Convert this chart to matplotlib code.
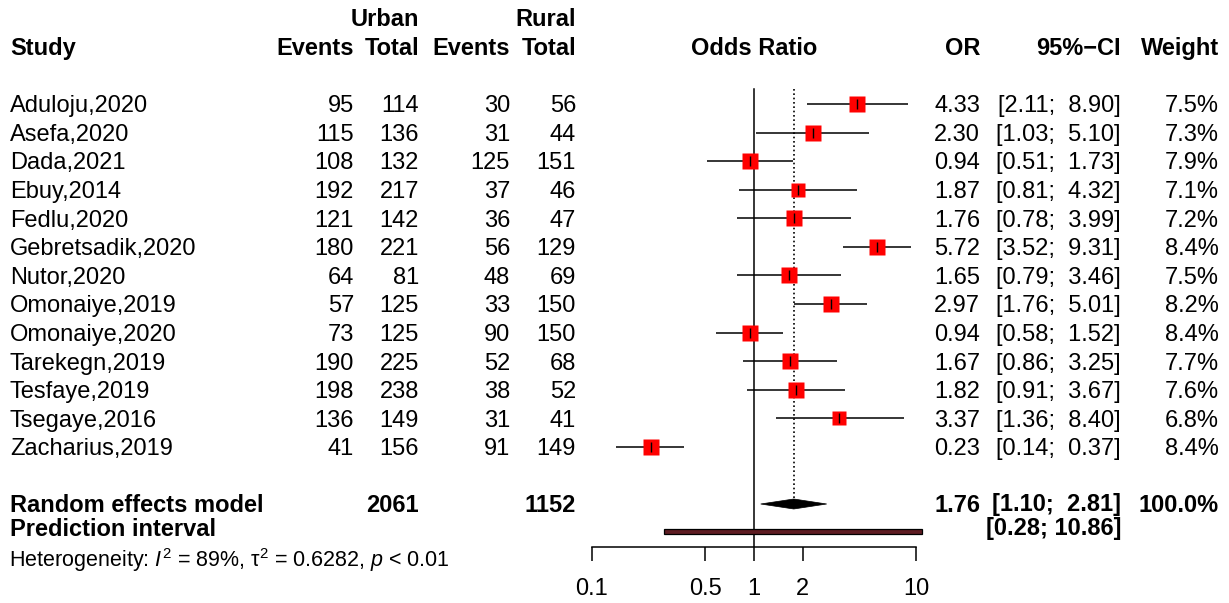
import numpy as np
import matplotlib
matplotlib.use("Agg")
import matplotlib.pyplot as plt
from matplotlib.patches import Rectangle, Polygon
from matplotlib.ticker import NullLocator

plt.rcParams['font.family'] = ['Liberation Sans', 'DejaVu Sans']
plt.rcParams['mathtext.fontset'] = 'custom'
plt.rcParams['mathtext.rm'] = 'Liberation Sans'
plt.rcParams['mathtext.it'] = 'Liberation Sans:italic'

# study level data (urban vs rural)
studies = ["Aduloju,2020", "Asefa,2020", "Dada,2021", "Ebuy,2014", "Fedlu,2020",
           "Gebretsadik,2020", "Nutor,2020", "Omonaiye,2019", "Omonaiye,2020",
           "Tarekegn,2019", "Tesfaye,2019", "Tsegaye,2016", "Zacharius,2019"]
urban_events = [95, 115, 108, 192, 121, 180, 64, 57, 73, 190, 198, 136, 41]
urban_total = [114, 136, 132, 217, 142, 221, 81, 125, 125, 225, 238, 149, 156]
rural_events = [30, 31, 125, 37, 36, 56, 48, 33, 90, 52, 38, 31, 91]
rural_total = [56, 44, 151, 46, 47, 129, 69, 150, 150, 68, 52, 41, 149]
odds = [4.33, 2.30, 0.94, 1.87, 1.76, 5.72, 1.65, 2.97, 0.94, 1.67, 1.82, 3.37, 0.23]
ci_lo = [2.11, 1.03, 0.51, 0.81, 0.78, 3.52, 0.79, 1.76, 0.58, 0.86, 0.91, 1.36, 0.14]
ci_hi = [8.90, 5.10, 1.73, 4.32, 3.99, 9.31, 3.46, 5.01, 1.52, 3.25, 3.67, 8.40, 0.37]
weights = [7.5, 7.3, 7.9, 7.1, 7.2, 8.4, 7.5, 8.2, 8.4, 7.7, 7.6, 6.8, 8.4]

# random effects summary + prediction interval
re_or, re_lo, re_hi = 1.76, 1.10, 2.81
pi_lo, pi_hi = 0.28, 10.86
urban_sum, rural_sum = 2061, 1152
xticks = [0.1, 0.5, 1, 2, 10]
xticklabels = ["0.1", "0.5", "1", "2", "10"]

W, H = 1229, 603
fs = 17
fig = plt.figure(figsize=(W / 100, H / 100), dpi=100)

# text layer in pixel units (y downwards)
tab = fig.add_axes([0, 0, 1, 1])
tab.set_xlim(0, W)
tab.set_ylim(H, 0)
tab.axis('off')

# forest panel, log scale, shares y units with the text layer
x0, x1, yaxis = 592, 916, 547
ax = fig.add_axes([x0 / W, (H - yaxis) / H, (x1 - x0) / W, yaxis / H])
ax.set_xscale('log')
ax.set_xlim(0.1, 10)
ax.set_ylim(yaxis, 0)
ax.patch.set_visible(False)
for s in ['left', 'right', 'top']:
    ax.spines[s].set_visible(False)
ax.spines['bottom'].set_linewidth(1.1)
ax.set_xticks(xticks)
ax.set_xticklabels(xticklabels)
ax.xaxis.set_minor_locator(NullLocator())
ax.tick_params(axis='x', direction='out', length=10, width=1.1, pad=12, labelsize=fs)
ax.set_yticks([])

row0, step = 104, 28.58
rows = [row0 + step * i for i in range(len(studies))]
y_re, y_pi = 504, 531.5
base = 8.3  # centre -> baseline offset for digits

col_study = 10
col_ue, col_ut, col_re, col_rt = 354, 419, 510, 576
col_or, col_ci, col_w = 980, 1121, 1219

# headers
hb = dict(fontsize=fs, fontweight='bold')
tab.text(col_ut, 18 + base, "Urban", ha='right', va='baseline', **hb)
tab.text(col_rt, 18 + base, "Rural", ha='right', va='baseline', **hb)
yh = 47 + base
tab.text(col_study, yh, "Study", ha='left', va='baseline', **hb)
tab.text(col_ue, yh, "Events", ha='right', va='baseline', **hb)
tab.text(col_ut, yh, "Total", ha='right', va='baseline', **hb)
tab.text(col_re, yh, "Events", ha='right', va='baseline', **hb)
tab.text(col_rt, yh, "Total", ha='right', va='baseline', **hb)
tab.text(754, yh, "Odds Ratio", ha='center', va='baseline', **hb)
tab.text(col_or, yh, "OR", ha='right', va='baseline', **hb)
tab.text(col_ci, yh, "95%\u2212CI", ha='right', va='baseline', **hb)
tab.text(col_w, yh, "Weight", ha='right', va='baseline', **hb)

# study rows
for i, y in enumerate(rows):
    yb = y + base
    tab.text(col_study, yb, studies[i], ha='left', va='baseline', fontsize=fs)
    tab.text(col_ue, yb, str(urban_events[i]), ha='right', va='baseline', fontsize=fs)
    tab.text(col_ut, yb, str(urban_total[i]), ha='right', va='baseline', fontsize=fs)
    tab.text(col_re, yb, str(rural_events[i]), ha='right', va='baseline', fontsize=fs)
    tab.text(col_rt, yb, str(rural_total[i]), ha='right', va='baseline', fontsize=fs)
    tab.text(col_or, yb, "%.2f" % odds[i], ha='right', va='baseline', fontsize=fs)
    tab.text(col_ci, yb, "[%.2f; %5.2f]" % (ci_lo[i], ci_hi[i]), ha='right', va='baseline', fontsize=fs)
    tab.text(col_w, yb, "%.1f%%" % weights[i], ha='right', va='baseline', fontsize=fs)

    ax.plot([ci_lo[i], ci_hi[i]], [y, y], color='black', lw=1.1, solid_capstyle='butt', zorder=2)
    side = 16.3 * np.sqrt(weights[i] / 8.4) * 0.72  # px -> pt
    ax.plot(odds[i], y, marker='s', ms=side, color='red', mec='none', zorder=3)
    ax.plot(odds[i], y, marker='|', ms=6.5, mew=1.0, color='black', zorder=4)

# summary rows
yb = 511.5
tab.text(col_study, yb, "Random effects model", ha='left', va='baseline', **hb)
tab.text(col_ut, yb, str(urban_sum), ha='right', va='baseline', **hb)
tab.text(col_rt, yb, str(rural_sum), ha='right', va='baseline', **hb)
tab.text(col_or, yb, "%.2f" % re_or, ha='right', va='baseline', **hb)
tab.text(col_ci, yb, "[%.2f; %5.2f]" % (re_lo, re_hi), ha='right', va='baseline', **hb)
tab.text(col_w, yb, "100.0%", ha='right', va='baseline', **hb)
yb = 535.5
tab.text(col_study, yb, "Prediction interval", ha='left', va='baseline', **hb)
tab.text(col_ci, yb, "[%.2f; %5.2f]" % (pi_lo, pi_hi), ha='right', va='baseline', **hb)
tab.text(9, 567, r"Heterogeneity: $\mathit{I}^2$ = 89%, $\mathrm{\tau}^2$ = 0.6282, $\mathit{p}$ < 0.01",
         ha='left', va='baseline', fontsize=15.5)

# reference lines
ax.plot([1, 1], [89, yaxis], color='black', lw=1.1, zorder=1)
ax.plot([re_or, re_or], [89, y_re - 5], color='black', lw=1.2, ls=(0, (1, 1.6)), zorder=1)

# summary diamond
ax.add_patch(Polygon([[re_lo, y_re], [re_or, y_re - 5], [re_hi, y_re], [re_or, y_re + 5]],
                     closed=True, facecolor='black', edgecolor='black', lw=0.5, zorder=3))
# prediction interval bar
ax.add_patch(Rectangle((pi_lo, y_pi - 2.5), pi_hi - pi_lo, 5, facecolor='#5e1c22',
                       edgecolor='black', lw=0.9, clip_on=False, zorder=3))

fig.savefig("out.png", dpi=100)
